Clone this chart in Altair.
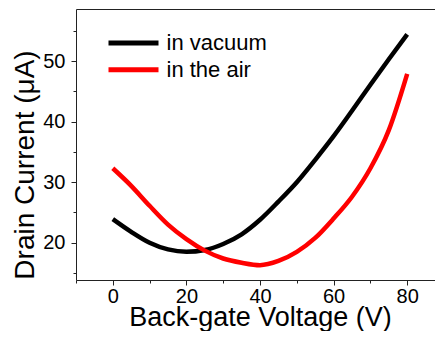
import altair as alt
import pandas as pd

# Back-gate voltage (V)
voltage = [0, 5, 10, 15, 20, 25, 30, 35, 40, 45, 50, 55, 60, 65, 70, 75, 80]
# Drain current (uA)
in_vacuum = [23.9, 21.8, 20.0, 18.9, 18.5, 18.8, 19.8, 21.4, 23.8, 26.8, 30.0, 33.7, 37.6, 41.8, 46.1, 50.3, 54.4]
in_air = [32.3, 29.4, 26.1, 23.0, 20.6, 18.7, 17.4, 16.7, 16.3, 17.0, 18.5, 20.8, 24.0, 27.6, 32.3, 38.6, 47.9]

series_names = ["in vacuum", "in the air"]
series_colors = ["#000000", "#ff0000"]
x_ticks = [-10, 0, 10, 20, 30, 40, 50, 60, 70, 80]
y_ticks = [15, 20, 25, 30, 35, 40, 45, 50, 55]

rows = []
for name, vals in zip(series_names, [in_vacuum, in_air]):
    for v, c in zip(voltage, vals):
        rows.append({"V": v, "I": c, "series": name})
df = pd.DataFrame(rows)

FONT = "Liberation Sans"
AX = "#222222"

x_scale = alt.Scale(domain=[-10, 87.55], nice=False, zero=False)
y_scale = alt.Scale(domain=[13.85, 58.6], nice=False, zero=False)

x_axis = alt.Axis(
    values=x_ticks,
    title="Back-gate Voltage (V)",
    grid=False,
    domainColor=AX,
    tickColor=AX,
    tickSize={"condition": {"test": "datum.value % 20 === 0", "value": 5}, "value": 3},
    labelExpr="datum.value % 20 === 0 ? datum.label : ''",
    labelFont=FONT,
    labelFontSize=20,
    labelColor="#000000",
    labelPadding=1,
    labelFlush=False,
    titleFont=FONT,
    titleFontSize=27,
    titleFontWeight="normal",
    titleColor="#000000",
    titleBaseline="alphabetic",
    titleAlign="center",
    titleX=184,
    titleY=45,
)

x_axis_top = alt.Axis(
    orient="top",
    title=None,
    grid=False,
    labels=False,
    ticks=False,
    domainColor=AX,
)

y_axis = alt.Axis(
    values=y_ticks,
    title="Drain Current (μA)",
    grid=False,
    domainColor=AX,
    tickColor=AX,
    tickSize={"condition": {"test": "datum.value % 10 === 0", "value": 5}, "value": 3},
    labelExpr="datum.value % 10 === 0 ? datum.label : ''",
    labelFont=FONT,
    labelFontSize=20,
    labelColor="#000000",
    labelPadding=6,
    labelFlush=False,
    titleFont=FONT,
    titleFontSize=28,
    titleFontWeight="normal",
    titleColor="#000000",
    titleAngle=270,
    titleBaseline="alphabetic",
    titleAlign="center",
    titleX=-43,
    titleY=155.5,
)

lines = (
    alt.Chart(df)
    .mark_line(strokeWidth=4.5, interpolate="monotone", clip=True)
    .encode(
        x=alt.X("V:Q", scale=x_scale, axis=x_axis),
        y=alt.Y("I:Q", scale=y_scale, axis=y_axis),
        color=alt.Color(
            "series:N",
            scale=alt.Scale(domain=series_names, range=series_colors),
            legend=alt.Legend(
                orient="none",
                legendX=46.5,
                legendY=23,
                title=None,
                symbolType="M-5,0H5",
                symbolSize=100,
                symbolStrokeWidth=5,
                labelFont=FONT,
                labelFontSize=22,
                labelColor="#000000",
                labelOffset=22,
                rowPadding=4.7,
                padding=0,
            ),
        ),
        order=alt.Order("V:Q"),
    )
)

frame_top = (
    alt.Chart(df)
    .mark_line(opacity=0)
    .encode(
        x=alt.X("V:Q", scale=x_scale, axis=x_axis_top),
        y=alt.Y("I:Q", scale=y_scale, axis=y_axis),
    )
)

chart = (
    alt.layer(lines, frame_top)
    .resolve_axis(x="independent")
    .properties(
        width=359,
        height=271,
        autosize=alt.AutoSizeParams(type="none"),
        padding={"left": 68, "top": 1, "right": 0, "bottom": 51},
    )
    .configure_view(stroke=None)
)

chart.save("out.html", embed_options={"renderer": "svg", "actions": False})
